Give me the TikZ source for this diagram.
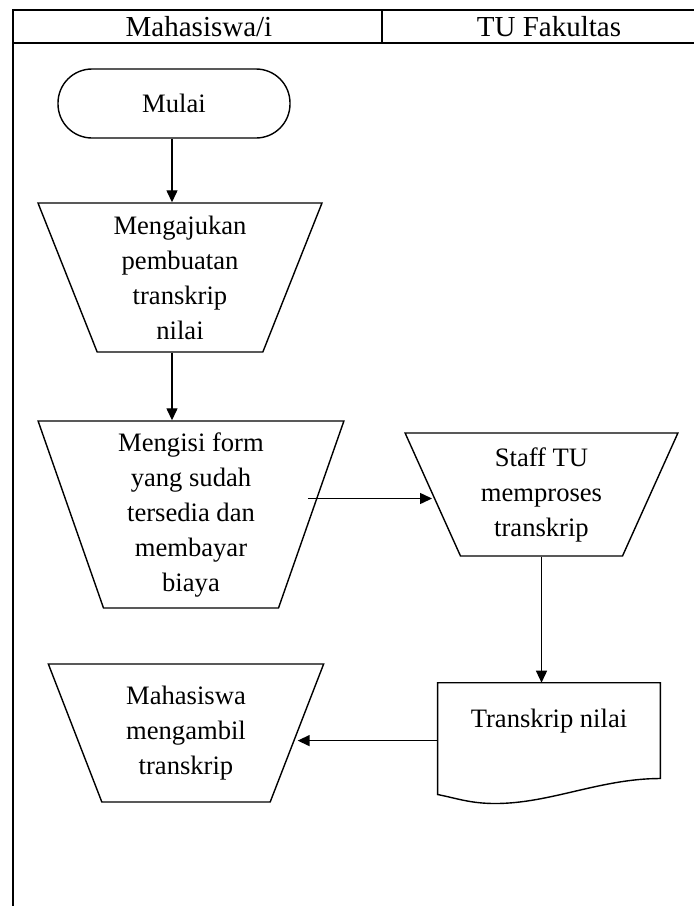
\documentclass[tikz,border=0pt]{standalone}
\usepackage{fontspec}
\setmainfont{Liberation Serif}
\usetikzlibrary{arrows.meta}
\usetikzlibrary{shapes.geometric}
\usetikzlibrary{positioning}
\tikzset{
  % arrow tips and lines
  >={Triangle[length=6pt,width=5.5pt]},
  line/.style={draw, ->, line width=0.7pt},
  frame/.style={draw, line width=0.9pt},
  % flowchart shapes
  term/.style={draw, rectangle, rounded corners=17pt, line width=0.7pt, minimum width=116pt, minimum height=34.5pt},
  manual/.style={draw, trapezium, trapezium stretches=true, trapezium left angle=#1, trapezium right angle=#1, align=center, inner sep=0pt, line width=0.7pt},
  docbox/.style={rectangle, inner sep=0pt, minimum width=111pt, minimum height=47.5pt, text depth=12pt},
  every node/.style={font=\fontsize{13.3pt}{17.5pt}\selectfont}
}

\begin{document}
\begin{tikzpicture}[x=0.5pt, y=-0.5pt]
    \useasboundingbox (0,0) rectangle (694,906);

    % Lanes
    \draw[frame] (13,906) -- (13,10) -- (694,10);
    \draw[frame] (13,43) -- (694,43);
    \draw[frame] (382,10) -- (382,43);
    \node [font=\fontsize{14.5pt}{17pt}\selectfont] (hmhs) at (199,26.5) {Mahasiswa/i};
    \node [font=\fontsize{14.5pt}{17pt}\selectfont] (htu) at (549,26.5) {TU Fakultas};

    % Place nodes
    \node [term] (mulai) at (174,103.5) {Mulai};
    \node [manual=111, minimum width=142pt, minimum height=74.5pt] (aju) at (180,277.5) {Mengajukan\\pembuatan\\transkrip\\nilai};
    \node [manual=108.3, minimum width=153pt, minimum height=93.5pt] (isi) at (191,514.5) {Mengisi form\\yang sudah\\tersedia dan\\membayar\\biaya};
    \node [manual=113.7, minimum width=136.5pt, minimum height=61.5pt] (proses) at (541.5,494.5) {Staff TU\\memproses\\transkrip};
    \node [docbox, below=63pt of proses, xshift=3.75pt] (doc) {Transkrip nilai};
    \node [manual=112, minimum width=138pt, minimum height=69pt] (ambil) at (186,733) {Mahasiswa\\mengambil\\transkrip};

    % Document outline
    \draw[line width=0.7pt] (doc.north west) -- (doc.north east) -- (doc.south east)
        .. controls +(-60,0) and +(55,0) .. ([xshift=-82.5pt, yshift=-12.5pt]doc.south east)
        .. controls +(-25,0) and +(20,4) .. ([yshift=-8pt]doc.south west) -- cycle;

    % Draw edges
    \path [line] (mulai.south -| 172,0) -- (aju.north -| 172,0);
    \path [line] (aju.south -| 172,0) -- (isi.north -| 172,0);
    \path [line] ([xshift=-2pt, yshift=-2pt]isi.east |- proses.west) -- ([yshift=-2pt]proses.west);
    \path [line] (proses.south) -- (proses.south |- doc.north);
    \path [line] ([yshift=-5pt]doc.west) -- ([yshift=-5pt]doc.west -| ambil.east);
\end{tikzpicture}
\end{document}
